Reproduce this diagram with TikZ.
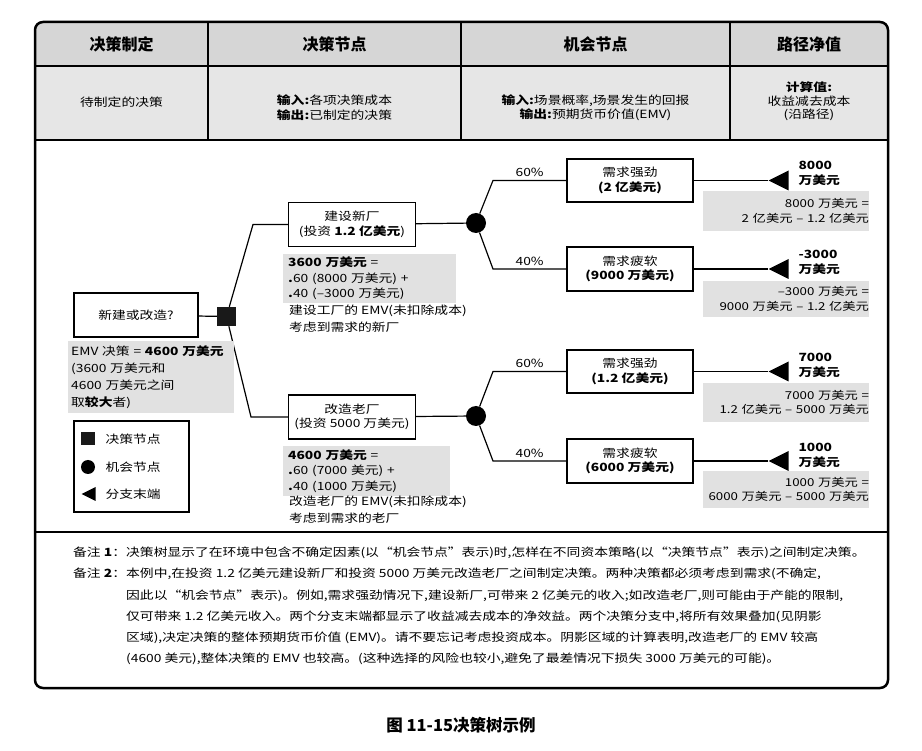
\documentclass[tikz,border=0pt]{standalone}
\usepackage{fontspec}
\setmainfont{Noto Sans CJK SC}[FakeStretch=1.22]
\newfontfamily\hdrfam{Noto Sans CJK SC}
\usetikzlibrary{shapes.geometric}

\definecolor{hdrgray}{HTML}{D6D6D6}
\definecolor{rowgray}{HTML}{E6E6E6}
\definecolor{shadegray}{HTML}{E1E1E1}

\newcommand{\diagfont}{\fontsize{11.3}{14.5}\selectfont}
\newcommand{\valfont}{\fontsize{10.9}{14.5}\selectfont}
\newcommand{\calcfont}{\fontsize{11.3}{15.5}\selectfont}
\newcommand{\emvfont}{\fontsize{11.3}{16.7}\selectfont}
\newcommand{\subfont}{\fontsize{11.3}{17}\selectfont}
\newcommand{\notefont}{\fontsize{11.3}{21.2}\selectfont}
\newcommand{\hdrfont}{\hdrfam\bfseries\fontsize{16}{19}\selectfont}
\newcommand{\capfont}{\hdrfam\bfseries\fontsize{16.5}{19}\selectfont}

\tikzset{
  box/.style={draw, line width=1.3pt, minimum width=127pt, minimum height=44pt,
    inner sep=1pt, align=center, font=\diagfont},
  conn/.style={line width=1.2pt},
  dnode/.style={fill=black!90, minimum size=19pt, inner sep=0pt},
  cnode/.style={circle, fill=black, minimum size=20pt, inner sep=0pt},
  tipnode/.style={isosceles triangle, shape border rotate=180, isosceles triangle stretches,
    fill=black, minimum width=20pt, minimum height=20pt, inner sep=0pt},
  vlabel/.style={anchor=west, align=left, font=\bfseries\fontsize{11.3}{15}\selectfont},
  valbox/.style={fill=shadegray, inner xsep=0pt, inner ysep=0pt, text width=166pt,
    align=right, font=\valfont},
  shadebox/.style={fill=shadegray, anchor=north west, inner xsep=5pt, inner ysep=0pt,
    align=left, font=\calcfont},
  pct/.style={above, font=\diagfont, inner sep=3pt}
}

\begin{document}
\begin{tikzpicture}[x=1pt, y=-1pt]
\useasboundingbox (0,0) rectangle (922,751);

% table head
\begin{scope}
  \clip[rounded corners=8pt] (35,22) rectangle (888,688);
  \fill[hdrgray] (35,22) rectangle (888,66);
  \fill[rowgray] (35,66) rectangle (888,140);
\end{scope}
\draw[line width=1.2pt] (35,66) -- (888,66);
\foreach \x in {208,461,730}
  \draw[line width=1.2pt] (\x,22) -- (\x,140);
\draw[line width=2pt] (35,140) -- (888,140);
\draw[line width=2pt] (35,532) -- (888,532);
\draw[line width=2.5pt, rounded corners=8pt] (35,22) rectangle (888,688);

\node[font=\hdrfont] (h1) at (121.5,44) {决策制定};
\node[font=\hdrfont] (h2) at (334.5,44) {决策节点};
\node[font=\hdrfont] (h3) at (595.5,44) {机会节点};
\node[font=\hdrfont] (h4) at (809,44) {路径净值};

\node[font=\diagfont] (r1) at (121.5,102) {待制定的决策};
\node[font=\diagfont, align=center] (r2) at (334.5,107.5)
  {\textbf{输入:}各项决策成本\\\textbf{输出:}已制定的决策};
\node[font=\diagfont, align=center] (r3) at (595.5,107.5)
  {\textbf{输入:}场景概率,场景发生的回报\\\textbf{输出:}预期货币价值(EMV)};
\node[font=\fontsize{11.3}{13.5}\selectfont, align=center] (r4) at (809,101.5)
  {\textbf{计算值:}\\收益减去成本\\(沿路径)};

% decision tree
\node[box, minimum width=124pt] (ask) at (136,315) {新建或改造?};
\node[dnode] (dec) at (226.5,316.5) {};
\node[box] (new) at (352,224.5) {建设新厂\\(投资 \textbf{1.2 亿美元})};
\node[box] (old) at (352,417) {改造老厂\\(投资 5000 万美元)};
\node[cnode] (c1) at (476,223) {};
\node[cnode] (c2) at (476,416) {};

\node[box, minimum width=126pt, minimum height=43pt] (s1) at (630,180.5) {需求强劲\\\textbf{(2 亿美元)}};
\node[box, minimum width=126pt] (s2) at (630,269) {需求疲软\\\textbf{(9000 万美元)}};
\node[box, minimum width=126pt, minimum height=43pt] (s3) at (630,371.5) {需求强劲\\\textbf{(1.2 亿美元)}};
\node[box, minimum width=126pt] (s4) at (630,461) {需求疲软\\\textbf{(6000 万美元)}};

\node[tipnode, anchor=apex] (t1) at (768,180.5) {};
\node[tipnode, anchor=apex] (t2) at (768,269) {};
\node[tipnode, anchor=apex] (t3) at (768,371.5) {};
\node[tipnode, anchor=apex] (t4) at (768,461) {};

\coordinate (k1) at (253,224.5);
\coordinate (k2) at (251,417);
\coordinate (k3) at (493,180.5);
\coordinate (k4) at (493,269);
\coordinate (k5) at (493,371.5);
\coordinate (k6) at (493,461);

\draw[conn] (ask) -- (dec);
\draw[conn] (dec) -- (k1) -- (new.west);
\draw[conn] (dec) -- (k2) -- (old.west);
\draw[conn] (new) -- (c1);
\draw[conn] (old) -- (c2);
\draw[conn] (c1) -- (k3) -- node[pct] {60\%} (s1.west);
\draw[conn] (c1) -- (k4) -- node[pct] {40\%} (s2.west);
\draw[conn] (c2) -- (k5) -- node[pct] {60\%} (s3.west);
\draw[conn] (c2) -- (k6) -- node[pct] {40\%} (s4.west);
\draw[conn] (s1) -- (t1.apex);
\draw[conn] (s2) -- (t2.apex);
\draw[conn] (s3) -- (t3.apex);
\draw[conn] (s4) -- (t4.apex);

% path values
\node[vlabel] (v1) at (795,173.5) {8000\\万美元};
\node[vlabel] (v2) at (795,262.5) {-3000\\万美元};
\node[vlabel] (v3) at (795,365) {7000\\万美元};
\node[vlabel] (v4) at (795,455) {1000\\万美元};

\node[valbox, minimum height=40pt] (g1) at (786,211) {8000 万美元 =\\2 亿美元 – 1.2 亿美元};
\node[valbox, minimum height=36pt] (g2) at (786,299) {–3000 万美元 =\\9000 万美元 – 1.2 亿美元};
\node[valbox, minimum height=39pt] (g3) at (786,402.5) {7000 万美元 =\\1.2 亿美元 – 5000 万美元};
\node[valbox, minimum height=37pt] (g4) at (786,489.5) {1000 万美元 =\\6000 万美元 – 5000 万美元};

% EMV of the branches
\node[shadebox, text width=163pt, minimum height=49pt] (e1) at (283,254)
  {\textbf{3600 万美元} =\\\textbf{.}60 (8000 万美元) +\\\textbf{.}40 (–3000 万美元)};
\node[anchor=north west, align=left, font=\subfont, inner sep=0pt] (m1) at (289,305)
  {建设工厂的 EMV(未扣除成本)\\考虑到需求的新厂};
\node[shadebox, text width=157pt, minimum height=50pt] (e2) at (283,446)
  {\textbf{4600 万美元} =\\\textbf{.}60 (7000 美元) +\\\textbf{.}40 (1000 万美元)};
\node[anchor=north west, align=left, font=\subfont, inner sep=0pt] (m2) at (289,496)
  {改造老厂的 EMV(未扣除成本)\\考虑到需求的老厂};

\node[shadebox, font=\emvfont, inner xsep=3pt, text width=160pt, minimum height=72pt] (emv) at (68,341)
  {EMV 决策 = \textbf{4600 万美元}\\(3600 万美元和\\4600 万美元之间\\取\textbf{较大}者)};

% legend
\node[draw, line width=1.3pt, minimum width=115pt, minimum height=91pt] (lg) at (131.5,466.5) {};
\node[fill=black!90, minimum width=14pt, minimum height=13pt, inner sep=0pt] (lsq) at (88,439) {};
\node[circle, fill=black, minimum size=14pt, inner sep=0pt] (lci) at (88,467) {};
\node[tipnode, minimum width=14pt, minimum height=14pt, anchor=apex] (ltr) at (81,494) {};
\node[anchor=west, font=\diagfont] (l1) at (102,439) {决策节点};
\node[anchor=west, font=\diagfont] (l2) at (102,467) {机会节点};
\node[anchor=west, font=\diagfont] (l3) at (102,494) {分支末端};

% notes
\node[anchor=north west, align=left, font=\notefont, inner sep=0pt] (lab) at (73,547)
  {备注 \textbf{1}：\\备注 \textbf{2}：};
\node[anchor=north west, align=left, font=\notefont, inner sep=0pt] (notes) at (126,547)
  {决策树显示了在环境中包含不确定因素(以“机会节点”表示)时,怎样在不同资本策略(以“决策节点”表示)之间制定决策。\\
   本例中,在投资 1.2 亿美元建设新厂和投资 5000 万美元改造老厂之间制定决策。两种决策都必须考虑到需求(不确定,\\
   因此以“机会节点”表示)。例如,需求强劲情况下,建设新厂,可带来 2 亿美元的收入;如改造老厂,则可能由于产能的限制,\\
   仅可带来 1.2 亿美元收入。两个分支末端都显示了收益减去成本的净效益。两个决策分支中,将所有效果叠加(见阴影\\
   区域),决定决策的整体预期货币价值 (EMV)。请不要忘记考虑投资成本。阴影区域的计算表明,改造老厂的 EMV 较高\\
   (4600 美元),整体决策的 EMV 也较高。(这种选择的风险也较小,避免了最差情况下损失 3000 万美元的可能)。};

\node[font=\capfont] (cap) at (461,725) {图 11-15决策树示例};
\end{tikzpicture}
\end{document}
